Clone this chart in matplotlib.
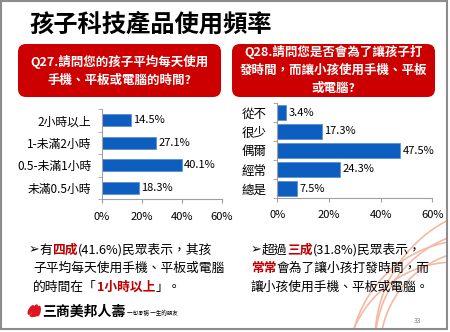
import numpy as np
import matplotlib.pyplot as plt
from matplotlib.patches import FancyBboxPatch, Rectangle, Ellipse

plt.rcParams['font.family'] = ['Noto Sans CJK TC', 'DejaVu Sans']

# 資料
q27_labels = ['2小時以上', '1-未滿2小時', '0.5-未滿1小時', '未滿0.5小時']
q27_values = [14.5, 27.1, 40.1, 18.3]
q28_labels = ['從不', '很少', '偶爾', '經常', '總是']
q28_values = [3.4, 17.3, 47.5, 24.3, 7.5]
x_ticks = [0, 20, 40, 60]

RED = '#CC0000'
TXT_RED = '#C00000'
BLUE = '#0E5EC0'

fig = plt.figure(figsize=(4.5, 3.32), dpi=100)

# 背景層 (座標 = 像素)
bg = fig.add_axes([0, 0, 1, 1])
bg.set_xlim(0, 450)
bg.set_ylim(332, 0)
bg.axis('off')

# 裝飾弧線
for cx, cy, r in [(480, 350, 100), (490, 345, 115), (470, 360, 120), (510, 340, 135), (455, 372, 110)]:
    th = np.linspace(0, 2 * np.pi, 400)
    xs = cx + r * np.cos(th)
    ys = cy + r * np.sin(th)
    m = (xs < 446.5) & (ys < 328.5) & (ys > 200)
    xs = np.where(m, xs, np.nan)
    bg.plot(xs, ys, color='#F4B8A3', lw=1.2, zorder=0)

# 邊框
bg.add_patch(Rectangle((0.8, 0.8), 446, 328, fill=False, ec='#8C8C8C', lw=1.5))

# 標題
bg.text(29, 25, '孩子科技產品使用頻率', fontsize=17.5, fontweight='bold', va='center', ha='left')

# 問題框
for x0, lines, ys in [(18, ['Q27.請問您的孩子平均每天使用', '手機、平板或電腦的時間?'], [62, 80]),
                      (232, ['Q28.請問您是否會為了讓孩子打', '發時間，而讓小孩使用手機、平板', '或電腦?'], [52, 70, 88])]:
    bg.add_patch(FancyBboxPatch((x0, 44), 203, 53, boxstyle='round,pad=0,rounding_size=8',
                                fc=RED, ec='none'))
    for s, y in zip(lines, ys):
        bg.text(x0 + 101.5, y, s, color='white', fontsize=9, fontweight='bold', ha='center', va='center')


def runs(x, y, parts, size=9.2):
    r = fig.canvas.get_renderer()
    for s, color, weight in parts:
        t = bg.text(x, y, s, fontsize=size, color=color, fontweight=weight, va='center', ha='left')
        x += t.get_window_extent(renderer=r).width


runs(29, 250, [('➢', 'black', 'normal'), ('有', 'black', 'normal'), ('四成', TXT_RED, 'bold'),
               ('(41.6%)民眾表示，其孩', 'black', 'normal')])
runs(33, 268.5, [('子平均每天使用手機、平板或電腦', 'black', 'normal')])
runs(33, 287, [('的時間在「', 'black', 'normal'), ('1小時以上', TXT_RED, 'bold'), ('」。', 'black', 'normal')])

runs(251, 250, [('➢', 'black', 'normal'), ('超過', 'black', 'normal'), ('三成', TXT_RED, 'bold'),
                ('(31.8%)民眾表示，', 'black', 'normal')])
runs(251, 268.5, [('常常', TXT_RED, 'bold'), ('會為了讓小孩打發時間，而', 'black', 'normal')])
runs(251, 287, [('讓小孩使用手機、平板或電腦。', 'black', 'normal')])

# 標誌
for cx, cy, w, h, a in [(31, 310, 5, 11, 30), (35, 310, 5, 12, 20), (38.5, 311, 4.5, 11, 10), (34, 315, 9, 4, -10)]:
    bg.add_patch(Ellipse((cx, cy), w, h, angle=a, fc='#E0141E', ec='none'))
bg.text(42, 312, '三商美邦人壽', fontsize=10, fontweight='bold', va='center', ha='left')
bg.text(127, 313, '一句承諾 一生的朋友', fontsize=4, va='center', ha='left')
bg.text(418, 321, '33', fontsize=5, color='#808080', va='center', ha='center')


def bar_chart(rect, labels, values, height, label_size):
    ax = fig.add_axes(rect)
    y = np.arange(len(labels))
    ax.barh(y, values, height=height, color=BLUE, edgecolor='#5B8FD6', lw=0.6)
    for yi, v in zip(y, values):
        ax.text(v + 1, yi, f'{v}%', va='center', ha='left', fontsize=8)
    ax.set_xlim(0, 60)
    ax.set_ylim(len(labels) - 0.5, -0.5)
    ax.set_yticks(y)
    ax.set_yticklabels(labels, fontsize=label_size)
    ax.set_yticks(np.arange(len(labels) + 1) - 0.5, minor=True)
    ax.set_xticks(x_ticks)
    ax.set_xticklabels([f'{t}%' for t in x_ticks], fontsize=8)
    ax.tick_params(axis='y', which='major', length=0, pad=7.5)
    ax.tick_params(axis='y', which='minor', length=3, color='#A0A0A0')
    ax.tick_params(axis='x', length=3, color='#A0A0A0', pad=6)
    for s in ['top', 'right']:
        ax.spines[s].set_visible(False)
    for s in ['left', 'bottom']:
        ax.spines[s].set_color('#A0A0A0')
    ax.patch.set_alpha(0)
    return ax


bar_chart([102 / 450, (332 - 199) / 332, 120 / 450, 90 / 332], q27_labels, q27_values, 0.53, 8.5)
bar_chart([277.3 / 450, (332 - 198) / 332, 155 / 450, 95 / 332], q28_labels, q28_values, 0.8, 9)

fig.savefig('out.png', dpi=100)
